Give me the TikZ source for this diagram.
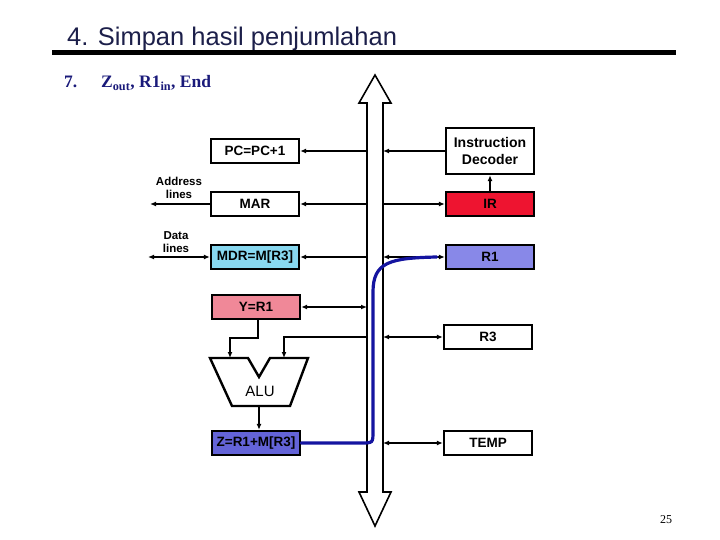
\documentclass[tikz,border=0pt]{standalone}
\usepackage{fontspec}
\setmainfont{Liberation Serif}
\setsansfont{Liberation Sans}
\usetikzlibrary{arrows.meta}
\definecolor{titlecol}{HTML}{1C1F4A}
\definecolor{navy}{HTML}{1A1A7A}
\definecolor{mdrcol}{HTML}{88D8F0}
\definecolor{ircol}{HTML}{EE1430}
\definecolor{rone}{HTML}{8888E8}
\definecolor{ycol}{HTML}{F08898}
\definecolor{zcol}{HTML}{6464D8}
\definecolor{bluepath}{HTML}{1414A0}
\tikzset{
  reg/.style={draw, line width=2.4pt, minimum width=88pt, minimum height=24pt, inner sep=0pt, font=\sffamily\bfseries\fontsize{13.5}{15}\selectfont},
  conn/.style={line width=1.4pt, -{Latex[length=6pt,width=5pt]}},
  dconn/.style={line width=1.4pt, {Latex[length=6pt,width=5pt]}-{Latex[length=6pt,width=5pt]}},
  lbl/.style={font=\sffamily\bfseries\fontsize{11.5}{13}\selectfont, align=center, inner sep=0pt}
}
\begin{document}
\begin{tikzpicture}[x=1pt,y=-1pt]
\useasboundingbox (0,0) rectangle (720,540);
% title
\node[anchor=base west, inner sep=0pt, text=titlecol, font=\sffamily\fontsize{25.5}{28}\selectfont] (title) at (67,46) {4. Simpan hasil penjumlahan};
\fill (52,50) rectangle (676,55);
\node[anchor=base west, inner sep=0pt, text=navy, font=\bfseries\fontsize{17.5}{19}\selectfont] (step) at (64,88) {7.};
\node[anchor=base west, inner sep=0pt, text=navy, font=\bfseries\fontsize{17.5}{19}\selectfont] (ops) at (101,88) {Z\textsubscript{out}, R1\textsubscript{in}, End};
% bus
\draw[line width=1.6pt, fill=white] (375,75) -- (391,103) -- (383,103) -- (383,492) -- (391,492) -- (375,526) -- (359,492) -- (367,492) -- (367,103) -- (359,103) -- cycle;
\coordinate (busL) at (367,0);
\coordinate (busR) at (383,0);
% registers
\node[reg] (pc) at (255,151) {PC=PC+1};
\node[reg] (mar) at (255,204) {MAR};
\node[reg, fill=mdrcol] (mdr) at (255,257) {MDR=M[R3]};
\node[reg, fill=ycol] (y) at (256,307) {Y=R1};
\node[reg, fill=zcol] (z) at (256,443) {Z=R1+M[R3]};
\node[reg, minimum height=46pt, align=center, font=\sffamily\bfseries\fontsize{14}{17}\selectfont] (id) at (490,151) {Instruction\\Decoder};
\node[reg, fill=ircol] (ir) at (490,204) {IR};
\node[reg, fill=rone] (r1) at (490,257) {R1};
\node[reg] (r3) at (488,337) {R3};
\node[reg] (temp) at (488,443) {TEMP};
% external lines
\node[lbl] (addr) at (179,188) {Address\\lines};
\node[lbl] (data) at (176,242) {Data\\lines};
\coordinate (addrEnd) at (150,204);
\coordinate (dataEnd) at (148,257);
\draw[conn] (mar.west) -- (addrEnd);
\draw[dconn] (dataEnd) -- (mdr.west);
% bus connections left
\draw[conn] (pc.east -| busL) -- (pc.east);
\draw[conn] (mar.east -| busL) -- (mar.east);
\draw[conn] (mdr.east -| busL) -- (mdr.east);
\draw[dconn] (y.east) -- (y.east -| busL);
% bus connections right
\draw[conn] (id.west) -- (id.west -| busR);
\draw[conn] (ir.west -| busR) -- (ir.west);
\draw[conn] (ir.north) -- (id.south);
\draw[dconn] (r1.west -| busR) -- (r1.west);
\draw[dconn] (r3.west -| busR) -- (r3.west);
\draw[dconn] (temp.west -| busR) -- (temp.west);
% ALU
\draw[line width=2.4pt, fill=white] (210,358) -- (248,358) -- (259,377) -- (270,358) -- (308,358) -- (290,406) -- (232,406) -- cycle;
\node[font=\sffamily\fontsize{15}{17}\selectfont, inner sep=0pt] (alu) at (260,391) {ALU};
\coordinate (aluL) at (230,358);
\coordinate (aluR) at (284,358);
\coordinate (aluB) at (259,406);
\draw[conn] (y.south -| 258,0) |- (230,338) -- (aluL);
\draw[conn] (r3.west -| busL) -| (aluR);
\draw[conn] (aluB) -- (z.north -| aluB);
% blue transfer path
\draw[bluepath, line width=3.2pt, line cap=round] (z.east) -- (361,443) .. controls (373,443) .. (373,431) -- (373,292) .. controls (373,262) and (390,258) .. ([xshift=-8pt]r1.west);
\node[font=\fontsize{12}{14}\selectfont, inner sep=0pt] (page) at (666,520) {25};
\end{tikzpicture}
\end{document}
